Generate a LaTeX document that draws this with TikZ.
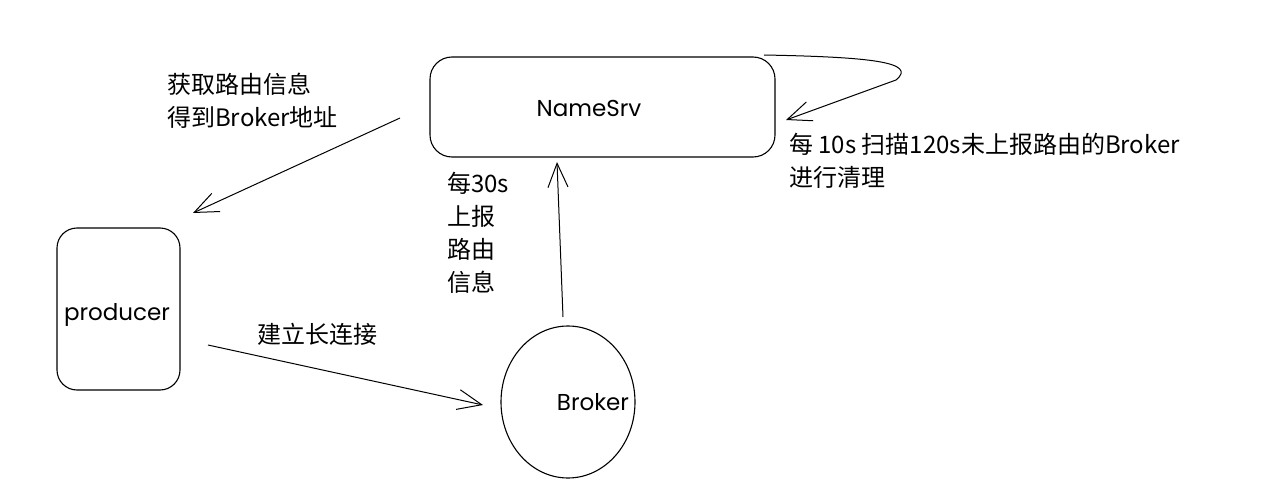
\documentclass[tikz,border=0pt]{standalone}
\usepackage{fontspec}
\setmainfont{Noto Sans CJK SC}
\newfontfamily\handfont{Poppins}
\usetikzlibrary{arrows.meta,shapes.geometric}
\begin{document}
\begin{tikzpicture}[x=1pt,y=-1pt,
  box/.style={draw,line width=1.1pt,rounded corners=22pt,inner sep=0pt},
  nametext/.style={font=\handfont\fontsize{23}{26}\selectfont,inner sep=0pt},
  lbl/.style={font=\fontsize{24}{33}\selectfont,align=left,anchor=north west,inner sep=0pt},
  conn/.style={line width=1pt,-{Straight Barb[length=24pt,width=20pt,line width=1pt]}}]
\useasboundingbox (0,0) rectangle (1283,495);
\node[box,minimum width=345pt,minimum height=100pt] (ns) at (602.5,107) {};
\node[nametext] (nst) at (589,108) {NameSrv};
\node[box,rounded corners=20pt,minimum width=123pt,minimum height=162pt] (prod) at (118.5,309) {};
\node[nametext] (prodt) at (117,315) {producer};
\node[draw,ellipse,line width=1.1pt,minimum width=134pt,minimum height=152pt,inner sep=0pt] (br) at (568,402) {};
\node[nametext] (brt) at (593,402) {Broker};
% connectors
\coordinate (a1s) at (400,118);
\coordinate (a1e) at (193,213);
\draw[conn] (a1s) -- (a1e);
\coordinate (a2s) at (208,345);
\coordinate (a2e) at (483,405);
\draw[conn] (a2s) -- (a2e);
\coordinate (a3s) at (563,317);
\coordinate (a3e) at (557,162);
\draw[conn] (a3s) -- (a3e);
\coordinate (a4s) at (764,55);
\coordinate (a4e) at (786,120);
\draw[conn] (a4s) .. controls (870,57) and (918,62) .. (896,80) -- (a4e);
% labels
\node[lbl] (l1) at (167,73) {获取路由信息\\得到Broker地址};
\node[lbl] (l2) at (447,172) {每30s\\上报\\路由\\信息};
\node[lbl] (l3) at (257,323) {建立长连接};
\node[lbl] (l4) at (789,133) {每 10s 扫描120s未上报路由的Broker\\进行清理};
\end{tikzpicture}
\end{document}
